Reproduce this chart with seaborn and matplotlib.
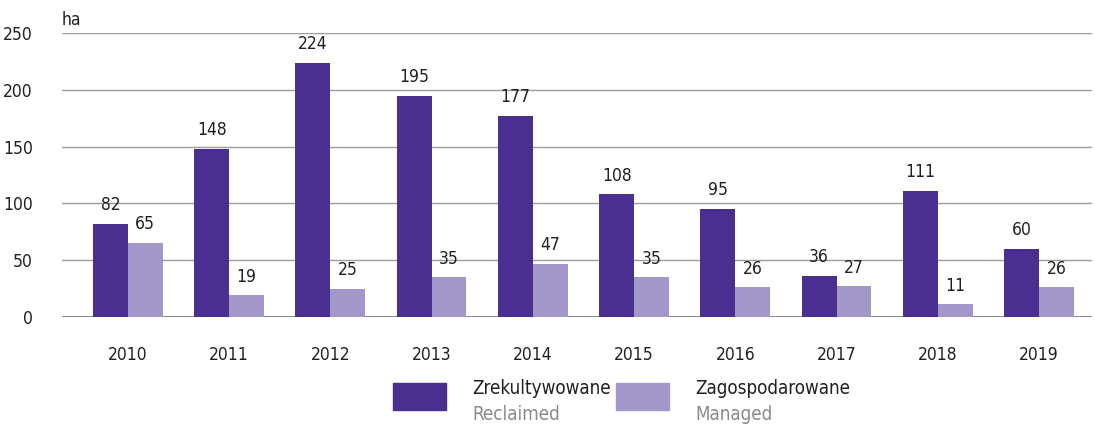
import pandas as pd
import seaborn as sns
import matplotlib.pyplot as plt
from matplotlib.patches import Rectangle
from matplotlib import font_manager

years = ["2010", "2011", "2012", "2013", "2014", "2015", "2016", "2017", "2018", "2019"]
reclaimed = [82, 148, 224, 195, 177, 108, 95, 36, 111, 60]
managed = [65, 19, 25, 35, 47, 35, 26, 27, 11, 26]
series_pl = ["Zrekultywowane", "Zagospodarowane"]
series_en = ["Reclaimed", "Managed"]
colors = ["#4a2e90", "#a397c9"]

df = pd.DataFrame({
    "year": years * 2,
    "value": reclaimed + managed,
    "series": [series_pl[0]] * len(years) + [series_pl[1]] * len(years),
})

sns.set_style("white")
names = {f.name for f in font_manager.fontManager.ttflist}
if "Liberation Sans Narrow" in names:
    plt.rcParams["font.family"] = ["Liberation Sans Narrow", "DejaVu Sans"]
else:
    plt.rcParams["font.family"] = ["DejaVu Sans"]
    plt.rcParams["font.stretch"] = "condensed"

fig = plt.figure(figsize=(10.95, 4.24), dpi=100)
ax = fig.add_axes([0.0566, 0.2524, 0.9404, 0.6696])

sns.barplot(data=df, x="year", y="value", hue="series", palette=colors,
            width=0.69, saturation=1, linewidth=0, ax=ax, legend=False)

for c in ax.containers:
    ax.bar_label(c, padding=7, fontsize=12.5, color="#231f20")

ax.set_ylim(0, 250)
ax.set_xlim(-0.65, 9.52)
ax.set_yticks([0, 50, 100, 150, 200, 250])
ax.yaxis.grid(True, color="#9d9d9d", linewidth=1)
ax.set_axisbelow(True)
ax.axhline(0, color="#6d6d6d", linewidth=1.2, zorder=0.5)
for s in ax.spines.values():
    s.set_visible(False)
ax.tick_params(axis="both", length=0, labelsize=12.5, colors="#231f20")
ax.tick_params(axis="y", pad=21)
ax.tick_params(axis="x", pad=21)
ax.set_xlabel("")
ax.set_ylabel("")
ax.text(0, 1.015, "ha", transform=ax.transAxes, fontsize=12.5, color="#231f20", va="bottom")

# legend
leg_x = [393, 616]
for i in range(2):
    x0 = leg_x[i] / 1095
    fig.add_artist(Rectangle((x0, 1 - 410 / 424), 53 / 1095, 27 / 424,
                             transform=fig.transFigure, color=colors[i]))
    fig.text(x0 + 79 / 1095, 1 - 389 / 424, series_pl[i], fontsize=13.5,
             color="#231f20", va="center")
    fig.text(x0 + 79 / 1095, 1 - 414 / 424, series_en[i], fontsize=13.5,
             color="#8a8a8a", va="center")

fig.savefig("out.png", dpi=100)
